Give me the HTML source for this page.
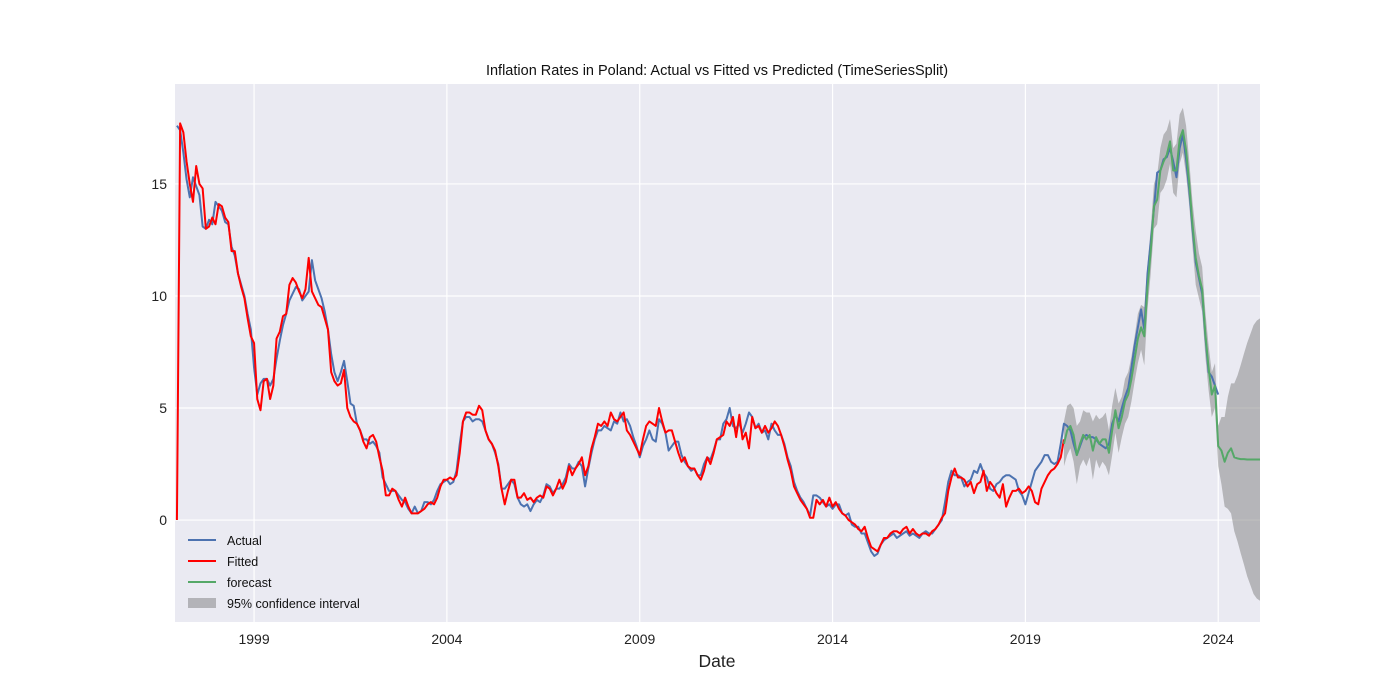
<!DOCTYPE html>
<html><head><meta charset="utf-8"><style>
body{margin:0;background:#fff;width:1400px;height:700px;overflow:hidden}
svg{display:block;font-family:"Liberation Sans",Arial,sans-serif}
</style></head><body>
<svg id="chart" width="1400" height="700"></svg>
<script>
const actual=[17.6,17.4,16.4,15.2,14.4,15.3,14.9,14.5,13.1,13.0,13.4,13.2,
14.2,14.0,13.8,13.3,13.2,12.2,11.8,11.0,10.5,10.0,9.2,8.5,
6.8,5.6,6.1,6.3,6.3,6.0,6.3,7.2,8.0,8.7,9.2,9.8,
10.1,10.4,10.3,9.8,10.0,10.2,11.6,10.7,10.3,9.9,9.3,8.5,
7.4,6.6,6.2,6.6,7.1,6.2,5.2,5.1,4.3,4.0,3.6,3.6,
3.4,3.5,3.3,3.0,1.9,1.6,1.3,1.3,1.3,1.1,0.9,0.8,
0.5,0.3,0.6,0.3,0.4,0.8,0.8,0.7,0.9,1.3,1.6,1.7,
1.8,1.6,1.7,2.2,3.4,4.4,4.6,4.6,4.4,4.5,4.5,4.4,
4.0,3.6,3.4,3.0,2.5,1.4,1.4,1.6,1.8,1.6,1.0,0.7,
0.6,0.7,0.4,0.7,0.9,0.8,1.1,1.6,1.5,1.2,1.4,1.4,
1.6,1.9,2.5,2.3,2.3,2.6,2.4,1.5,2.3,3.0,3.6,4.0,
4.0,4.2,4.1,4.0,4.4,4.3,4.8,4.4,4.5,4.2,3.7,3.3,
2.8,3.3,3.6,4.0,3.6,3.5,4.5,4.3,3.9,3.1,3.3,3.5,
3.5,2.9,2.6,2.4,2.2,2.3,2.0,2.0,2.5,2.8,2.7,3.1,
3.6,3.6,4.3,4.5,5.0,4.2,4.1,4.3,3.9,4.3,4.8,4.6,
4.1,4.3,3.9,4.0,3.6,4.3,4.0,3.8,3.8,3.4,2.8,2.4,
1.7,1.3,1.0,0.8,0.5,0.2,1.1,1.1,1.0,0.8,0.6,0.7,
0.5,0.7,0.7,0.3,0.2,0.3,-0.2,-0.3,-0.3,-0.6,-0.6,-1.0,
-1.4,-1.6,-1.5,-1.1,-0.9,-0.8,-0.7,-0.6,-0.8,-0.7,-0.6,-0.5,
-0.7,-0.6,-0.7,-0.8,-0.6,-0.5,-0.6,-0.6,-0.4,-0.2,0.0,0.8,
1.7,2.2,2.0,2.0,1.9,1.5,1.7,1.8,2.2,2.1,2.5,2.1,
1.9,1.4,1.3,1.6,1.7,1.9,2.0,2.0,1.9,1.8,1.3,1.1,
0.7,1.2,1.7,2.2,2.4,2.6,2.9,2.9,2.6,2.5,2.6,3.4,
4.3,4.2,4.0,3.4,2.9,3.3,3.7,3.8,3.7,3.7,3.6,3.4,
3.3,3.2,3.4,4.3,4.7,4.4,5.0,5.5,5.9,6.8,7.8,8.6,
9.4,8.5,11.0,12.4,13.9,15.5,15.6,16.1,16.2,16.6,16.0,15.3,
16.6,17.2,16.1,14.7,13.0,11.5,10.8,10.1,8.2,6.6,6.4,6.0,5.6];
const fitted=[0,17.7,17.3,16.0,15.0,14.2,15.8,15.0,14.8,13.0,13.1,13.5,
13.2,14.1,14.0,13.5,13.3,12.0,12.0,11.0,10.4,9.9,9.0,8.2,
7.9,5.4,4.9,6.2,6.3,5.4,6.0,8.1,8.4,9.1,9.2,10.5,
10.8,10.6,10.2,9.9,10.3,11.7,10.2,9.9,9.6,9.5,9.0,8.5,
6.6,6.2,6.0,6.1,6.7,5.0,4.6,4.4,4.3,4.0,3.5,3.2,
3.7,3.8,3.5,2.8,2.2,1.1,1.1,1.4,1.3,0.9,0.6,1.0,
0.6,0.3,0.3,0.3,0.4,0.5,0.7,0.8,0.7,1.0,1.5,1.8,
1.8,1.9,1.8,2.0,3.0,4.4,4.8,4.8,4.7,4.7,5.1,4.9,
4.0,3.6,3.4,3.1,2.4,1.4,0.7,1.3,1.8,1.8,1.0,1.0,
1.2,0.9,1.0,0.8,1.0,1.1,1.0,1.5,1.4,1.1,1.4,1.8,
1.4,1.7,2.4,2.0,2.3,2.5,2.8,2.0,2.4,3.2,3.7,4.3,
4.2,4.4,4.2,4.8,4.5,4.4,4.6,4.8,4.0,3.8,3.5,3.2,
2.9,3.6,4.2,4.4,4.3,4.2,5.0,4.4,3.9,4.0,4.0,3.5,
3.0,2.6,2.8,2.4,2.3,2.3,2.0,1.8,2.2,2.8,2.5,3.0,
3.6,3.7,3.8,4.4,4.2,4.6,3.7,4.7,3.6,3.9,3.2,4.6,
4.1,4.2,3.9,4.2,3.9,4.1,4.4,4.2,3.8,3.3,2.7,2.2,
1.5,1.2,0.9,0.7,0.5,0.1,0.1,0.9,0.7,0.9,0.6,1.0,
0.6,0.8,0.5,0.3,0.2,0.0,-0.1,-0.2,-0.4,-0.5,-0.3,-0.8,
-1.2,-1.3,-1.4,-1.1,-0.8,-0.8,-0.6,-0.5,-0.5,-0.6,-0.4,-0.3,
-0.6,-0.4,-0.6,-0.7,-0.6,-0.6,-0.7,-0.5,-0.4,-0.2,0.1,0.3,
1.3,1.9,2.3,1.9,1.9,1.8,1.5,1.7,1.2,1.6,1.7,2.2,
1.3,1.7,1.5,1.2,1.0,1.6,0.6,1.0,1.3,1.3,1.4,1.2,
1.3,1.5,1.3,0.8,0.7,1.4,1.7,2.0,2.2,2.3,2.5,2.8,3.6];
const forecast=[3.4,4.0,4.2,3.8,2.9,3.4,3.8,3.6,3.8,3.1,3.7,3.4,
3.6,3.6,3.0,4.0,4.9,4.1,4.6,5.3,5.6,6.3,7.2,8.1,
8.6,8.2,10.4,12.0,14.0,14.3,15.6,16.0,16.3,16.9,15.6,15.6,
17.0,17.4,16.5,15.0,13.2,11.7,10.9,10.3,8.3,6.8,5.6,6.0,
3.3,3.1,2.6,3.0,3.2,2.8,2.75,2.72,2.72,2.7,2.7,2.7,2.7,2.7];
const ciHalf=[1.0,1.1,1.0,1.2,1.3,1.0,1.1,1.2,1.0,1.3,1.0,1.1,
1.0,1.2,1.0,1.1,1.0,1.1,0.9,1.0,1.0,1.0,1.0,1.1,
1.0,1.3,1.0,1.0,1.0,1.1,1.0,1.2,1.1,1.0,1.0,1.2,
1.1,1.0,1.1,1.0,1.0,1.2,1.0,1.0,1.0,1.0,1.0,1.0,
0.9,1.5,2.0,2.5,2.9,3.3,3.7,4.2,4.7,5.2,5.6,6.0,6.2,6.3];
const yTicks=[0,5,10,15];
const xTicks=[1999,2004,2009,2014,2019,2024];
const startYear=1997, fcStart=2020;

const L=175,R=1260,T=84,B=622;
const X0=1996.95,X1=fcStart+(forecast.length-1)/12,Y0=-4.55,Y1=19.46;
const xs=v=>L+(v-X0)/(X1-X0)*(R-L);
const ys=v=>B-(v-Y0)/(Y1-Y0)*(B-T);
const NS='http://www.w3.org/2000/svg';
const svg=document.getElementById('chart');
function mk(tag,attrs,parent){const e=document.createElementNS(NS,tag);for(const k in attrs)e.setAttribute(k,attrs[k]);(parent||svg).appendChild(e);return e;}
const bg=mk('rect',{x:L,y:T,width:R-L,height:B-T,fill:'#eaeaf2'});


const clip=mk('clipPath',{id:'cp'});mk('rect',{x:L,y:T,width:R-L,height:B-T},clip);
yTicks.forEach(t=>{
 const g=mk('line',{x1:L,x2:R,y1:ys(t),y2:ys(t),stroke:'#fff','stroke-width':1.2});
 
 
 const tx=mk('text',{x:L-8,y:ys(t)+5,'text-anchor':'end','font-size':14,fill:'#222'});tx.textContent=t;
 
 
});
xTicks.forEach(t=>{
 const g=mk('line',{x1:xs(t),x2:xs(t),y1:T,y2:B,stroke:'#fff','stroke-width':1.2});
 
 
 const tx=mk('text',{x:xs(t),y:B+22,'text-anchor':'middle','font-size':14,fill:'#222'});tx.textContent=t;
 
 
});
const gp=mk('g',{'clip-path':'url(#cp)'});
const fx=i=>xs(fcStart+i/12);
let up=forecast.map((v,i)=>fx(i)+','+ys(v+ciHalf[i]));
let lo=forecast.map((v,i)=>fx(i)+','+ys(v-ciHalf[i])).reverse();
const band=mk('polygon',{points:up.concat(lo).join(' '),fill:'#808080','fill-opacity':0.5},gp);


function line(arr,x0,color,name){
 const p=mk('polyline',{points:arr.map((v,i)=>xs(x0+i/12)+','+ys(v)).join(' '),fill:'none',stroke:color,'stroke-width':2,'stroke-linejoin':'round'},gp);
 
 
}
line(actual,startYear,'#4c72b0','actual-line');
line(fitted,startYear,'#ff0000','fitted-line');
line(forecast,fcStart,'#55a868','forecast-line');
const ttl=mk('text',{x:717,y:75,'text-anchor':'middle','font-size':14.5,fill:'#111'});ttl.textContent='Inflation Rates in Poland: Actual vs Fitted vs Predicted (TimeSeriesSplit)';


const xl=mk('text',{x:717,y:667,'text-anchor':'middle','font-size':17.5,fill:'#222'});xl.textContent='Date';


const legItems=[['Actual','#4c72b0','line'],['Fitted','#ff0000','line'],['forecast','#55a868','line'],['95% confidence interval','#b3b3b8','patch']];
legItems.forEach((it,i)=>{
 const y=540+i*21;
 const g=mk('g',{});
 
 
 if(it[2]==='line')mk('line',{x1:188,x2:216,y1:y,y2:y,stroke:it[1],'stroke-width':2},g);
 else mk('rect',{x:188,y:y-5,width:28,height:10,fill:it[1]},g);
 const t=mk('text',{x:227,y:y+5,'font-size':12.5,fill:'#111'},g);t.textContent=it[0];
});
</script>
</body></html>
